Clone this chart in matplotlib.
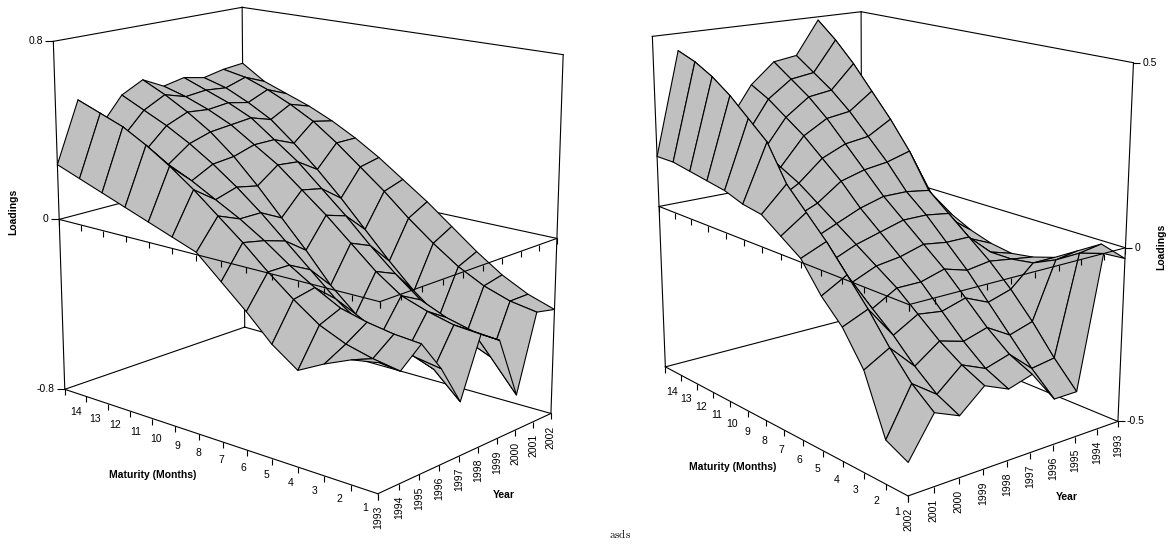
import numpy as np
import matplotlib.pyplot as plt
from matplotlib.lines import Line2D
from mpl_toolkits.mplot3d import proj3d

plt.rcParams['font.family'] = ['Liberation Sans', 'DejaVu Sans']
plt.rcParams['mathtext.fontset'] = 'cm'

years = list(range(1993, 2003))
maturities = list(range(1, 15))

# rows: maturity 1..14, columns: year 1993..2002
loadings_left = [
    [-0.25, -0.32, -0.24, -0.38, -0.56, -0.30, -0.36, -0.64, -0.30, -0.32],
    [-0.27, -0.30, -0.23, -0.36, -0.45, -0.29, -0.35, -0.50, -0.28, -0.28],
    [-0.32, -0.27, -0.21, -0.33, -0.40, -0.26, -0.32, -0.45, -0.24, -0.22],
    [-0.38, -0.22, -0.18, -0.28, -0.36, -0.22, -0.27, -0.38, -0.18, -0.14],
    [-0.30, -0.14, -0.12, -0.20, -0.30, -0.14, -0.18, -0.29, -0.10, -0.05],
    [-0.19, -0.05, -0.05, -0.10, -0.20, -0.04, -0.08, -0.18, -0.01, 0.04],
    [-0.09, 0.05, 0.03, 0.00, -0.07, 0.06, 0.03, -0.06, 0.09, 0.12],
    [0.01, 0.14, 0.10, 0.10, 0.05, 0.15, 0.13, 0.06, 0.18, 0.20],
    [0.05, 0.23, 0.16, 0.19, 0.17, 0.24, 0.23, 0.17, 0.27, 0.27],
    [0.09, 0.31, 0.22, 0.27, 0.28, 0.31, 0.31, 0.27, 0.35, 0.33],
    [0.13, 0.38, 0.27, 0.34, 0.37, 0.38, 0.39, 0.36, 0.41, 0.38],
    [0.17, 0.44, 0.31, 0.40, 0.44, 0.43, 0.44, 0.42, 0.46, 0.42],
    [0.21, 0.48, 0.35, 0.45, 0.50, 0.47, 0.48, 0.47, 0.50, 0.46],
    [0.25, 0.52, 0.38, 0.50, 0.55, 0.50, 0.52, 0.50, 0.52, 0.53],
]

loadings_right = [
    [-0.03, 0.00, -0.37, -0.37, -0.28, -0.30, -0.27, -0.33, -0.30, -0.41],
    [-0.01, -0.02, -0.30, -0.31, -0.25, -0.27, -0.24, -0.30, -0.25, -0.38],
    [-0.05, -0.06, -0.22, -0.24, -0.20, -0.22, -0.20, -0.25, -0.18, -0.22],
    [-0.09, -0.09, -0.15, -0.17, -0.14, -0.16, -0.15, -0.19, -0.10, -0.13],
    [-0.11, -0.10, -0.09, -0.10, -0.08, -0.10, -0.10, -0.14, -0.03, -0.07],
    [-0.12, -0.10, -0.04, -0.04, -0.03, -0.05, -0.06, -0.09, 0.04, 0.01],
    [-0.11, -0.08, 0.01, 0.02, 0.02, 0.00, -0.02, -0.05, 0.10, 0.05],
    [-0.09, -0.04, 0.06, 0.07, 0.07, 0.05, 0.02, -0.01, 0.16, 0.09],
    [-0.06, 0.02, 0.16, 0.14, 0.13, 0.11, 0.06, 0.03, 0.26, 0.10],
    [-0.04, 0.08, 0.24, 0.20, 0.19, 0.16, 0.10, 0.06, 0.31, 0.12],
    [-0.02, 0.14, 0.31, 0.26, 0.25, 0.21, 0.13, 0.09, 0.36, 0.13],
    [0.01, 0.20, 0.38, 0.31, 0.30, 0.25, 0.16, 0.11, 0.40, 0.14],
    [0.04, 0.25, 0.44, 0.35, 0.34, 0.29, 0.19, 0.13, 0.43, 0.15],
    [0.07, 0.30, 0.49, 0.39, 0.38, 0.32, 0.22, 0.15, 0.45, 0.15],
]

fig = plt.figure(figsize=(11.74, 5.44), dpi=100)
FS = 7.5


def panel(rect, Z, xlim, zlim, zticks, ztick_labels, view, aspect, zoom,
          focal, zside, mat_off1, mat_off14):
    ax = fig.add_axes(rect, projection='3d', computed_zorder=False)
    ax.set_axis_off()
    X, Y = np.meshgrid(years, maturities)
    ax.plot_surface(X, Y, np.array(Z), color='#c0c0c0', edgecolor='black',
                    linewidth=0.8, shade=False, rstride=1, cstride=1, zorder=2)
    x0, x1 = xlim
    y0, y1 = maturities[0], maturities[-1]
    z0, z1 = zlim
    ax.set_xlim(x0, x1)
    ax.set_ylim(y0, y1)
    ax.set_zlim(z0, z1)
    ax.set_box_aspect(aspect, zoom=zoom)
    ax.view_init(elev=view[0], azim=view[1])
    ax.set_proj_type('persp', focal_length=focal)

    kw = dict(color='black', lw=0.8)
    # back walls of the box and the zero plane
    back = [((x0, x0), (y1, y1), (z0, z1)), ((x1, x1), (y1, y1), (z0, z1)),
            ((x1, x1), (y0, y0), (z0, z1)), ((x0, x1), (y1, y1), (z1, z1)),
            ((x1, x1), (y0, y1), (z1, z1)), ((x0, x1), (y1, y1), (z0, z0)),
            ((x1, x1), (y0, y1), (z0, z0)), ((x0, x1), (y1, y1), (0, 0)),
            ((x1, x1), (y0, y1), (0, 0))]
    for xs, ys, zs in back:
        ax.plot(xs, ys, zs, zorder=1, **kw)
    front = [((x0, x0), (y0, y1), (z0, z0)), ((x0, x1), (y0, y0), (z0, z0)),
             ((x0, x0), (y0, y1), (0, 0)), ((x0, x1), (y0, y0), (0, 0))]
    for xs, ys, zs in front:
        ax.plot(xs, ys, zs, zorder=3, **kw)

    M = ax.get_proj()

    def scr(x, y, z):
        px, py, _ = proj3d.proj_transform(x, y, z, M)
        return px, py

    def tick(pt, marker, size):
        ax.add_artist(Line2D([pt[0]], [pt[1]], marker=marker, markersize=size,
                             markeredgewidth=0.8, color='black', linestyle='none',
                             transform=ax.transData, zorder=3))

    for zb in (z0, 0):
        for m in maturities:
            tick(scr(x0, m, zb), 3, 4.3)
        for yr in years:
            tick(scr(yr, y0, zb), 3, 4.3)

    for m in maturities:
        t = (m - y0) / (y1 - y0)
        off = (mat_off1[0] + t * (mat_off14[0] - mat_off1[0]),
               mat_off1[1] + t * (mat_off14[1] - mat_off1[1]))
        ax.annotate(str(m), scr(x0, m, z0), xytext=off, textcoords='offset points',
                    ha='center', va='center', fontsize=FS, zorder=4)
    for yr in years:
        ax.annotate(str(yr), scr(yr, y0, z0), xytext=(0, -8.5),
                    textcoords='offset points', ha='center', va='top',
                    rotation=90, fontsize=FS, zorder=4)

    for zt, lab in zip(zticks, ztick_labels):
        if zside == 'left':
            p = scr(x0, y1, zt)
            tick(p, 0, 5.8)
            ax.annotate(lab, p, xytext=(-7.5, 0), textcoords='offset points',
                        ha='right', va='center', fontsize=FS, zorder=4)
        else:
            p = scr(x1, y0, zt)
            tick(p, 1, 5.2)
            ax.annotate(lab, p, xytext=(6.5, 0), textcoords='offset points',
                        ha='left', va='center', fontsize=FS, zorder=4)
    return ax


panel([0.0026, 0.066, 0.5, 1.0], loadings_left, (1993, 2002), (-0.8, 0.8),
      [0.8, 0, -0.8], ['0.8', '0', '-0.8'], (15.5, -138.7), (1.0, 1.53, 1.3325),
      1.110, 0.7, 'left', (-9.4, -10.1), (7.9, -16.6))
panel([0.4949, 0.0707, 0.5, 1.0], loadings_right, (2002, 1993), (-0.5, 0.5),
      [0.5, 0, -0.5], ['0.5', '0', '-0.5'], (16.0, -128.8), (0.968, 1.47, 1.287),
      1.081, 0.55, 'right', (-7.9, -11.5), (5.0, -18.0))

bold = dict(fontsize=FS, fontweight='bold', ha='center', va='center')
fig.text(13 / 1174, 1 - 212 / 544, 'Loadings', rotation=90, **bold)
fig.text(153 / 1174, 1 - 475 / 544, 'Maturity (Months)', **bold)
fig.text(504 / 1174, 1 - 495 / 544, 'Year', **bold)
fig.text(1161 / 1174, 1 - 247 / 544, 'Loadings', rotation=90, **bold)
fig.text(733 / 1174, 1 - 467 / 544, 'Maturity (Months)', **bold)
fig.text(1067 / 1174, 1 - 497 / 544, 'Year', **bold)
fig.text(620 / 1174, 1 - 534 / 544, r'$\mathrm{asds}$', fontsize=8,
         ha='center', va='center')

fig.savefig('out.png', dpi=100)
